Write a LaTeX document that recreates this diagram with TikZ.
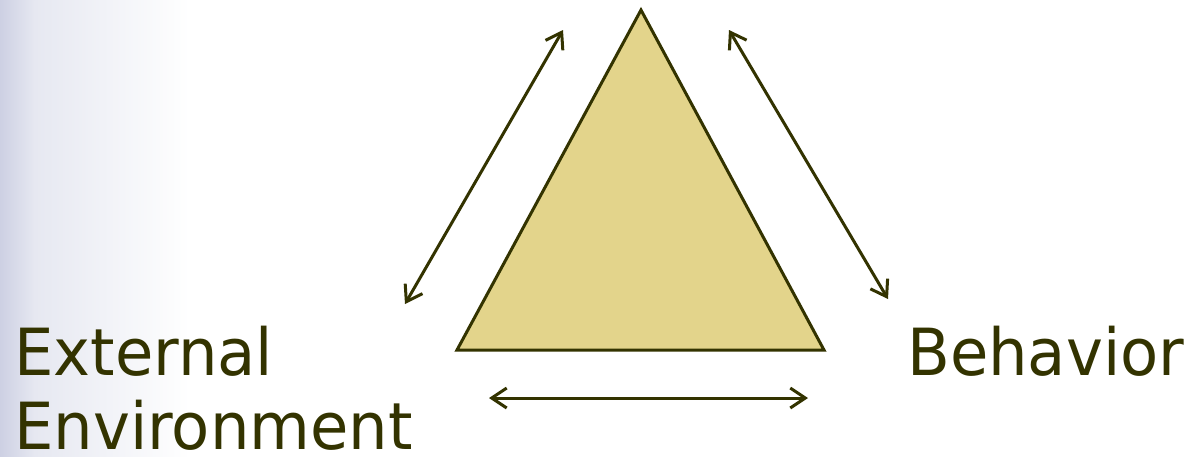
\documentclass[tikz,border=0pt]{standalone}
\usepackage{fontspec}
\newfontfamily\lblfont{DejaVu Sans}[FakeStretch=0.96]
\usetikzlibrary{arrows.meta}
\definecolor{olive}{HTML}{333300}
\definecolor{trifill}{HTML}{E3D48B}
\definecolor{edgeblue}{HTML}{CDD0E3}
\definecolor{midblue}{HTML}{E6E8F1}
\tikzset{
  lbl/.style={font=\lblfont\fontsize{65}{76}\selectfont, text=olive, inner sep=0pt},
  dblarrow/.style={draw=olive, line width=3pt, {Straight Barb[length=15pt,width=20pt]}-{Straight Barb[length=15pt,width=20pt]}},
  tri/.style={draw=olive, line width=3pt, fill=trifill, line join=miter}
}
\begin{document}
\begin{tikzpicture}[x=1pt,y=-1pt]
\useasboundingbox (0,0) rectangle (1195,456);
\fill[white] (0,0) rectangle (1195,456);
\shade[left color=edgeblue, right color=midblue] (0,0) rectangle (35,456);
\shade[left color=midblue, right color=white] (34.5,0) rectangle (190,456);
% triangle
\coordinate (top) at (641,10);
\coordinate (bl) at (457,350);
\coordinate (br) at (824,350);
\draw[tri] (top) -- (bl) -- (br) -- cycle;
% arrows
\coordinate (la) at (405,304);
\coordinate (lb) at (563,30);
\coordinate (ra) at (729,30);
\coordinate (rb) at (888,299);
\coordinate (ba) at (489,398);
\coordinate (bb) at (808,398);
\draw[dblarrow] (la) -- (lb);
\draw[dblarrow] (ra) -- (rb);
\draw[dblarrow] (ba) -- (bb);
% labels
\node[lbl, anchor=base west] (ext1) at (14,375) {External};
\node[lbl, anchor=base west] (ext2) at (14,449) {Environment};
\node[lbl, anchor=base west] (beh) at (907,375) {Behavior};
\end{tikzpicture}
\end{document}
